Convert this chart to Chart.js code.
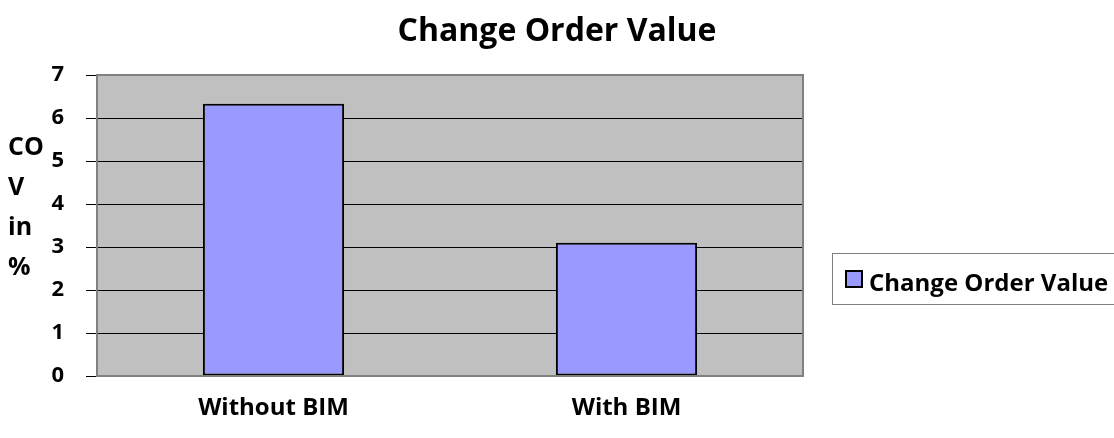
<!DOCTYPE html>
<html>
<head>
<meta charset="utf-8">
<script src="https://cdn.jsdelivr.net/npm/chart.js@4"></script>
<style>
  html, body { margin: 0; padding: 0; background: #fff; }
  #wrap { width: 1114px; height: 438px; }
</style>
</head>
<body>
<div id="wrap"><canvas id="covChart" width="1114" height="438"></canvas></div>
<script>
// data
const categories = ['Without BIM', 'With BIM'];
const covValues = [6.33, 3.1];
const seriesName = 'Change Order Value';
const chartTitle = 'Change Order Value';
const yTitleLines = ['CO', 'V', 'in', '%'];

const FONT = "'Open Sans', sans-serif";

// gray plot background + frame
const plotBg = {
    id: 'plotBg',
    beforeDraw(chart) {
        const { ctx, chartArea: a } = chart;
        ctx.save();
        ctx.fillStyle = '#c0c0c0';
        ctx.fillRect(a.left, a.top, a.right - a.left, a.bottom - a.top);
        ctx.restore();
    },
    afterDatasetsDraw(chart) {
        const { ctx, chartArea: a } = chart;
        ctx.save();
        ctx.strokeStyle = '#808080';
        ctx.lineWidth = 2;
        ctx.strokeRect(a.left, a.top, a.right - a.left, a.bottom - a.top);
        ctx.restore();
    }
};

// title, y title as stacked words, boxed legend on the right
const extras = {
    id: 'extras',
    afterDraw(chart) {
        const { ctx } = chart;
        ctx.save();
        ctx.fillStyle = '#000';
        ctx.textBaseline = 'middle';

        ctx.font = `bold 32px ${FONT}`;
        ctx.textAlign = 'center';
        ctx.fillText(chartTitle, chart.width / 2, 32);

        ctx.font = `bold 25px ${FONT}`;
        ctx.textAlign = 'left';
        yTitleLines.forEach((t, i) => ctx.fillText(t, 8, 148 + i * 40));

        // legend
        ctx.strokeStyle = '#808080';
        ctx.lineWidth = 1;
        ctx.strokeRect(832.5, 253.5, 285, 51);
        const ds = chart.data.datasets[0];
        ctx.fillStyle = ds.backgroundColor;
        ctx.fillRect(846, 271, 16, 16);
        ctx.strokeStyle = '#000';
        ctx.lineWidth = 2;
        ctx.strokeRect(846, 271, 16, 16);
        ctx.fillStyle = '#000';
        ctx.font = `bold 24px ${FONT}`;
        ctx.fillText(ds.label, 869, 284);
        ctx.restore();
    }
};

new Chart(document.getElementById('covChart'), {
    type: 'bar',
    data: {
        labels: categories,
        datasets: [{
            label: seriesName,
            data: covValues,
            backgroundColor: '#9999ff',
            borderColor: '#000',
            borderWidth: 2,
            borderSkipped: false,
            barPercentage: 1,
            categoryPercentage: 0.4
        }]
    },
    options: {
        responsive: false,
        animation: false,
        layout: { padding: { left: 0, right: 311, top: 75, bottom: 0 } },
        plugins: {
            legend: { display: false },
            tooltip: { enabled: false },
            title: { display: false }
        },
        scales: {
            x: {
                grid: { display: false, drawTicks: false },
                border: { display: false },
                ticks: {
                    color: '#000',
                    padding: 18,
                    font: { family: FONT, size: 24, weight: 'bold' }
                },
                afterFit(scale) { scale.height = 62; }
            },
            y: {
                min: 0,
                max: 7,
                grid: { color: '#000', lineWidth: 1, tickLength: 11 },
                border: { display: false },
                ticks: {
                    stepSize: 1,
                    color: '#000',
                    padding: 22,
                    font: { family: FONT, size: 22, weight: 'bold' }
                },
                afterFit(scale) { scale.width = 97; }
            }
        }
    },
    plugins: [plotBg, extras]
});
</script>
</body>
</html>
